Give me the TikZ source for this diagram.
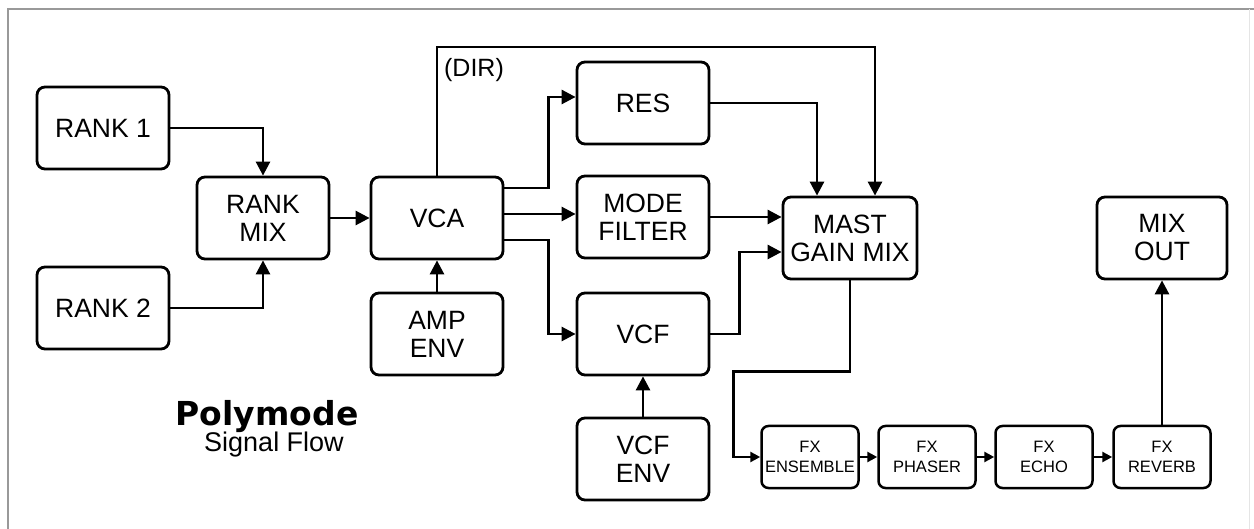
\documentclass[tikz,border=0pt]{standalone}
\usepackage{fontspec}
\setmainfont{Liberation Sans}
\newfontfamily\heavyfont{DejaVu Sans}
\usetikzlibrary{arrows.meta}
\begin{document}
\begin{tikzpicture}[x=1pt,y=-1pt,
  blk/.style={draw, line width=2.8pt, rounded corners=8pt, minimum width=132pt, minimum height=82pt, inner sep=0pt, align=center, font=\fontsize{26.5}{28}\selectfont},
  fxblk/.style={draw, line width=2.5pt, rounded corners=7pt, minimum width=97pt, minimum height=62pt, inner sep=0pt, align=center, font=\fontsize{16.5}{20}\selectfont},
  conn/.style={line width=2.7pt},
  arr/.style={conn, -{Triangle[length=14pt,width=14pt]}},
  sarr/.style={line width=2.5pt, -{Triangle[length=10pt,width=10pt]}}]
\useasboundingbox (0,0) rectangle (1254,529);
\fill[white] (0,0) rectangle (1254,529);
\draw[gray!80, line width=1.5pt] (8,529) -- (8,9) -- (1254,9);
\draw[gray!20, line width=1pt] (1249,9) -- (1249,529);
% nodes
\node[blk] (rank1) at (103,128) {RANK 1};
\node[blk] (rank2) at (103,308) {RANK 2};
\node[blk] (rankmix) at (263,218) {RANK\\MIX};
\node[blk] (vca) at (437,218) {VCA};
\node[blk] (ampenv) at (437,334) {AMP\\ENV};
\node[blk] (res) at (643,103) {RES};
\node[blk] (mode) at (643,217) {MODE\\FILTER};
\node[blk] (vcf) at (643,334) {VCF};
\node[blk] (vcfenv) at (643,459) {VCF\\ENV};
\node[blk, minimum width=134pt] (mast) at (850,238) {MAST\\GAIN MIX};
\node[blk, minimum width=130pt] (mixout) at (1162,238) {MIX\\OUT};
\node[fxblk] (ens) at (810,457) {FX\\ENSEMBLE};
\node[fxblk] (pha) at (927,457) {FX\\PHASER};
\node[fxblk] (echo) at (1044,457) {FX\\ECHO};
\node[fxblk] (rev) at (1162,457) {FX\\REVERB};
\node[font=\fontsize{25}{26}\selectfont] (dir) at (474,70) {(DIR)};
\node[font=\heavyfont\bfseries\fontsize{33}{34}\selectfont, anchor=base] (title) at (267,425) {Polymode};
\node[font=\fontsize{27}{28}\selectfont, anchor=base] (sub) at (274,452) {Signal Flow};
\coordinate (dirtop) at (875,47);
% connectors
\draw[arr] (rank1.east) -| (rankmix.north);
\draw[arr] (rank2.east) -| (rankmix.south);
\draw[arr] (rankmix) -- (vca);
\draw[arr] (ampenv) -- (vca);
\draw[arr] (vca.north) |- (dirtop) -- (mast.north -| dirtop);
\draw[arr] ([yshift=30pt]vca.east) -- ++(44,0) |- ([yshift=6pt]res.west);
\draw[arr] ([yshift=4pt]vca.east) -- ([yshift=4pt]vca.east -| mode.west);
\draw[arr] ([yshift=-22pt]vca.east) -- ++(44,0) |- (vcf.west);
\draw[arr] (res.east) -| ([xshift=-33pt]mast.north);
\draw[arr] (mode.east) -- (mode.east -| mast.west);
\draw[arr] (vcf.east) -- ++(29,0) |- ([yshift=-14pt]mast.west);
\draw[arr] (vcfenv) -- (vcf);
\draw[sarr] (mast.south) -- ++(0,91) -| ([xshift=-27pt]ens.west) -- (ens.west);
\draw[sarr] (ens) -- (pha);
\draw[sarr] (pha) -- (echo);
\draw[sarr] (echo) -- (rev);
\draw[arr] (rev) -- (mixout);
\end{tikzpicture}
\end{document}
